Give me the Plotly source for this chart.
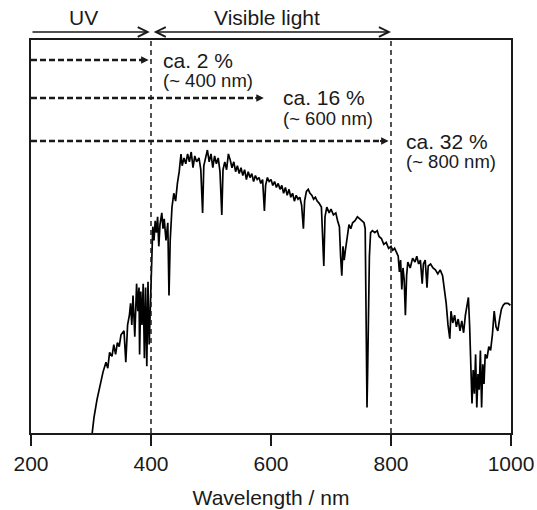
import plotly.graph_objects as go

# ---- data ----
wavelength = [302, 305, 310, 315, 320, 325, 328, 331, 335, 338, 341, 344, 347, 350, 355, 358,
              361, 364, 366, 368, 370, 373, 376, 378, 380, 381, 383, 385, 387, 389, 391, 393,
              395, 397, 399, 401, 403, 405, 407, 409, 411, 413, 415, 418, 420, 422, 425, 428,
              430, 432, 435, 438, 441, 444, 447, 450, 452, 455, 458, 461, 464, 467, 470, 473,
              476, 480, 483, 486, 488, 491, 494, 497, 500, 503, 506, 509, 512, 515, 518, 520,
              523, 526, 529, 532, 535, 538, 541, 544, 547, 550, 553, 556, 559, 562, 565, 568,
              571, 574, 577, 580, 583, 586, 589, 591, 594, 597, 600, 603, 606, 609, 612, 615,
              618, 621, 624, 627, 630, 633, 636, 639, 642, 645, 648, 651, 654, 656, 659, 662,
              665, 668, 671, 674, 677, 680, 684, 686, 688, 690, 693, 697, 700, 704, 708, 711,
              714, 716, 718, 720, 722, 724, 727, 730, 733, 736, 740, 744, 748, 752, 755, 757,
              759, 760, 761, 762, 764, 766, 769, 773, 777, 780, 784, 788, 792, 796, 800, 803,
              806, 809, 812, 814, 816, 818, 820, 822, 824, 826, 828, 832, 836, 840, 843, 846,
              849, 852, 854, 857, 860, 862, 866, 870, 874, 878, 882, 886, 889, 892, 895, 898,
              900, 903, 906, 909, 912, 915, 918, 921, 924, 927, 929, 931, 933, 935, 937, 939,
              941, 943, 945, 947, 949, 951, 953, 955, 957, 960, 963, 966, 969, 972, 975, 978,
              981, 984, 987, 990, 995, 999]
irradiance = [0.00, 0.08, 0.17, 0.25, 0.31, 0.36, 0.33, 0.41, 0.39, 0.45, 0.40, 0.46, 0.44, 0.50, 0.52, 0.36,
              0.55, 0.60, 0.66, 0.55, 0.70, 0.49, 0.76, 0.62, 0.74, 0.40, 0.72, 0.55, 0.76, 0.38, 0.74, 0.34,
              0.77, 0.45, 0.70, 0.90, 1.05, 0.98, 1.08, 1.02, 1.10, 0.95, 1.06, 1.12, 1.04, 1.09, 0.98, 1.07,
              0.70, 0.98, 1.15, 1.22, 1.18, 1.27, 1.33, 1.42, 1.36, 1.40, 1.37, 1.42, 1.38, 1.43, 1.35, 1.41,
              1.38, 1.40, 1.34, 1.12, 1.36, 1.40, 1.44, 1.38, 1.42, 1.35, 1.41, 1.37, 1.40, 1.33, 1.11, 1.34,
              1.38, 1.34, 1.42, 1.39, 1.35, 1.38, 1.33, 1.36, 1.32, 1.35, 1.31, 1.34, 1.29, 1.33, 1.30, 1.32,
              1.28, 1.31, 1.29, 1.30, 1.27, 1.29, 1.13, 1.26, 1.30, 1.28, 1.29, 1.26, 1.28, 1.25, 1.27, 1.24,
              1.26, 1.22, 1.25, 1.21, 1.24, 1.20, 1.22, 1.18, 1.21, 1.19, 1.20, 1.16, 1.04, 1.18, 1.23, 1.24,
              1.22, 1.21, 1.19, 1.20, 1.18, 1.17, 1.15, 1.00, 0.85, 1.10, 1.15, 1.12, 1.14, 1.11, 1.12, 1.08,
              1.05, 0.90, 0.80, 0.95, 0.88, 0.93, 1.00, 1.06, 1.04, 1.07, 1.08, 1.10, 1.09, 1.08, 1.07, 1.04,
              0.60, 0.13, 0.30, 0.55, 0.90, 1.02, 1.03, 1.02, 1.03, 1.00, 0.99, 0.96, 0.97, 0.94, 0.95, 0.93,
              0.94, 0.92, 0.90, 0.82, 0.88, 0.73, 0.84, 0.78, 0.60, 0.80, 0.87, 0.84, 0.89, 0.87, 0.90, 0.86,
              0.88, 0.76, 0.86, 0.88, 0.74, 0.85, 0.86, 0.84, 0.83, 0.81, 0.83, 0.80, 0.74, 0.66, 0.55, 0.48,
              0.62, 0.56, 0.60, 0.54, 0.58, 0.52, 0.57, 0.51, 0.60, 0.67, 0.69, 0.55, 0.35, 0.15, 0.32, 0.20,
              0.40, 0.13, 0.30, 0.22, 0.42, 0.13, 0.35, 0.25, 0.40, 0.38, 0.44, 0.42, 0.50, 0.62, 0.54, 0.52,
              0.58, 0.63, 0.65, 0.66, 0.66, 0.65]

x_ticks = [200, 400, 600, 800, 1000]
region_bounds = [400, 800]
fraction_labels = ["ca. 2 %", "ca. 16 %", "ca. 32 %"]
fraction_sublabels = ["(~ 400 nm)", "(~ 600 nm)", "(~ 800 nm)"]
fraction_ends = [396, 588, 796]
fraction_levels = [1.898, 1.705, 1.486]

FONT = "Liberation Sans, Arial, sans-serif"
INK = "#1a1a1a"
label_x = [416, 617, 822]

fig = go.Figure()
fig.add_trace(go.Scatter(x=wavelength, y=irradiance, mode="lines",
                         line=dict(color="black", width=1.7), showlegend=False,
                         hoverinfo="skip"))

shapes = []
annotations = []

# vertical dashed boundaries
for b in region_bounds:
    shapes.append(dict(type="line", xref="x", yref="paper", x0=b, x1=b, y0=0, y1=1,
                       line=dict(color=INK, width=1.5, dash="5px,4px")))

# dashed fraction arrows and labels
for lab, sub, xe, lv, tx in zip(fraction_labels, fraction_sublabels, fraction_ends,
                                fraction_levels, label_x):
    shapes.append(dict(type="line", xref="x", yref="y", x0=200, x1=xe - 6, y0=lv, y1=lv,
                       line=dict(color=INK, width=2.5, dash="6px,3px")))
    annotations.append(dict(x=xe, y=lv, xref="x", yref="y", ax=-10, ay=0, axref="pixel",
                            ayref="pixel", text="", showarrow=True, arrowhead=2,
                            arrowsize=0.75, arrowwidth=2, arrowcolor=INK))
    annotations.append(dict(x=tx, y=lv, xref="x", yref="y", text=lab, showarrow=False,
                            xanchor="left", yanchor="middle",
                            font=dict(family=FONT, size=21, color=INK)))
    annotations.append(dict(x=tx, y=lv - 0.104, xref="x", yref="y", text=sub, showarrow=False,
                            xanchor="left", yanchor="middle",
                            font=dict(family=FONT, size=18.5, color=INK)))

# top region arrows
top_y = 1.0204
annotations.append(dict(x=398, y=top_y, xref="x", yref="paper", ax=200, ay=0, axref="x",
                        ayref="pixel", text="", showarrow=True, arrowhead=5, arrowsize=1.3,
                        arrowwidth=1.5, arrowcolor=INK))
annotations.append(dict(x=800, y=top_y, xref="x", yref="paper", ax=402, ay=0, axref="x",
                        ayref="pixel", text="", showarrow=True, arrowhead=5, arrowsize=1.3,
                        arrowwidth=1.5, arrowcolor=INK, arrowside="end+start",
                        startarrowhead=5, startarrowsize=1.3))
annotations.append(dict(x=288, y=1.0585, xref="x", yref="paper", text="UV", showarrow=False,
                        xanchor="center", yanchor="middle",
                        font=dict(family=FONT, size=21, color=INK)))
annotations.append(dict(x=593, y=1.0585, xref="x", yref="paper", text="Visible light",
                        showarrow=False, xanchor="center", yanchor="middle",
                        font=dict(family=FONT, size=21, color=INK)))

fig.update_layout(
    template="none",
    width=537, height=510,
    margin=dict(l=31, r=26, t=40, b=77, autoexpand=False),
    paper_bgcolor="white", plot_bgcolor="white",
    shapes=shapes, annotations=annotations,
    font=dict(family=FONT, size=21, color=INK),
    xaxis=dict(range=[200, 1000], tickvals=x_ticks, ticks="outside", ticklen=11,
               tickwidth=1.5, tickcolor=INK, showline=True, linecolor=INK, linewidth=1.5,
               mirror=True, showgrid=False, zeroline=False, automargin=False,
               tickfont=dict(family=FONT, size=21, color=INK),
               title=dict(text="Wavelength / nm", standoff=16,
                          font=dict(family=FONT, size=21, color=INK))),
    yaxis=dict(range=[0, 2.0], showticklabels=False, ticks="", showline=True,
               linecolor=INK, linewidth=1.5, mirror=True, showgrid=False, zeroline=False,
               automargin=False),
)

fig.write_html("out.html")
